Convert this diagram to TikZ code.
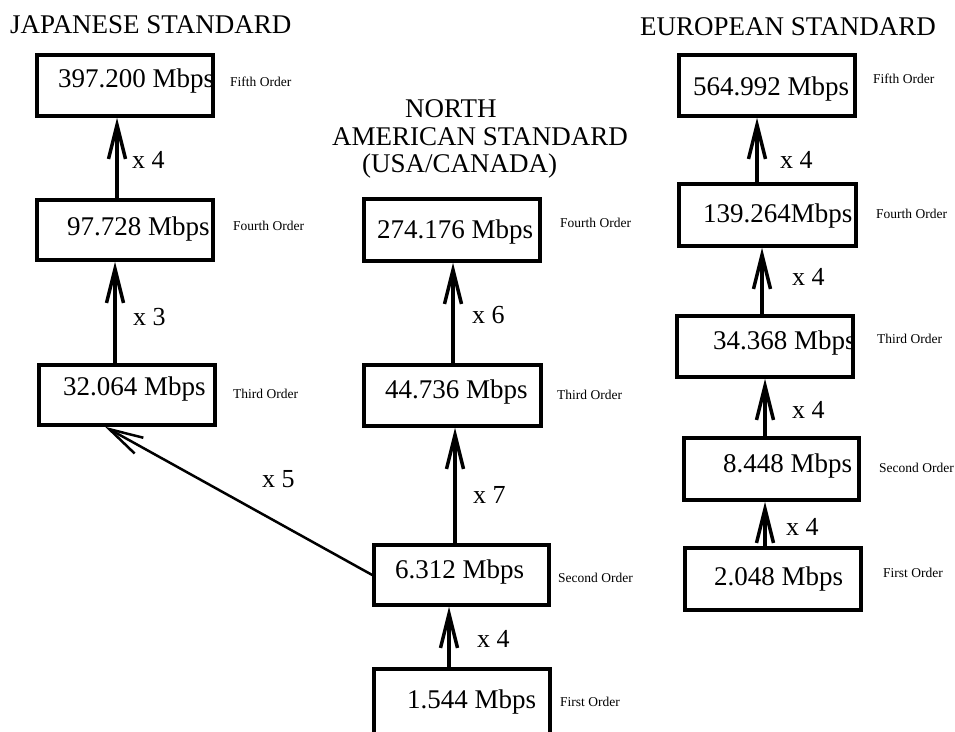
\documentclass[tikz,border=0pt]{standalone}
\usepackage{fontspec}
\setmainfont{Liberation Serif}
\usetikzlibrary{arrows.meta}
\begin{document}
\begin{tikzpicture}[x=1pt,y=-1pt,
  box/.style={draw,line width=3.5pt,inner sep=0pt,minimum width=176pt,minimum height=61pt},
  rate/.style={font=\fontsize{27}{30}\selectfont,anchor=base west,inner sep=0pt},
  ord/.style={font=\fontsize{13.5}{15}\selectfont,anchor=base west,inner sep=0pt},
  mult/.style={font=\fontsize{26}{28}\selectfont,anchor=base west,inner sep=0pt},
  ttl/.style={font=\fontsize{27}{30}\selectfont,anchor=base west,inner sep=0pt},
  arr/.style={line width=3.5pt,-{Straight Barb[length=34pt,width=17pt]}},
  darr/.style={line width=2.5pt,-{Straight Barb[length=34pt,width=18pt]}}]
\useasboundingbox (0,0) rectangle (955,731);
\clip (0,0) rectangle (955,731);

% titles
\node[ttl] (tj) at (10,33) {JAPANESE STANDARD};
\node[ttl] (te) at (640,35) {EUROPEAN STANDARD};
\node[ttl] (tn1) at (405,117) {NORTH};
\node[ttl] (tn2) at (332,145) {AMERICAN STANDARD};
\node[ttl] (tn3) at (362,172) {(USA/CANADA)};

% Japanese boxes
\node[box] (j5) at (125,85.5) {};
\node[box,minimum height=60pt] (j4) at (125,230) {};
\node[box,minimum height=60pt] (j3) at (127,395) {};
% North American boxes
\node[box,minimum height=62pt] (n4) at (452,230) {};
\node[box,minimum width=177pt] (n3) at (452.5,395.5) {};
\node[box,minimum width=175pt,minimum height=60pt] (n2) at (461.5,575) {};
\node[box,minimum height=70pt] (n1) at (462,704) {};
% European boxes
\node[box] (e5) at (767,85.5) {};
\node[box,minimum width=177pt,minimum height=62pt] (e4) at (767.5,215) {};
\node[box] (e3) at (765,346.5) {};
\node[box,minimum width=175pt,minimum height=62pt] (e2) at (771.5,469) {};
\node[box,minimum height=62pt] (e1) at (773,579) {};

% rates
\node[rate] (j5t) at (58,87) {397.200 Mbps};
\node[rate] (j4t) at (67,235) {97.728 Mbps};
\node[rate] (j3t) at (63,395) {32.064 Mbps};
\node[rate] (n4t) at (377,238) {274.176 Mbps};
\node[rate] (n3t) at (385,398) {44.736 Mbps};
\node[rate] (n2t) at (395,578) {6.312 Mbps};
\node[rate] (n1t) at (407,708) {1.544 Mbps};
\node[rate] (e5t) at (693,95) {564.992 Mbps};
\node[rate] (e4t) at (703,222) {139.264Mbps};
\node[rate] (e3t) at (713,349) {34.368 Mbps};
\node[rate] (e2t) at (723,472) {8.448 Mbps};
\node[rate] (e1t) at (714,585) {2.048 Mbps};

% order labels
\node[ord] (j5o) at (230,86) {Fifth Order};
\node[ord] (j4o) at (233,230) {Fourth Order};
\node[ord] (j3o) at (233,398) {Third Order};
\node[ord] (n4o) at (560,227) {Fourth Order};
\node[ord] (n3o) at (557,399) {Third Order};
\node[ord] (n2o) at (558,582) {Second Order};
\node[ord] (n1o) at (560,706) {First Order};
\node[ord] (e5o) at (873,83) {Fifth Order};
\node[ord] (e4o) at (876,218) {Fourth Order};
\node[ord] (e3o) at (877,343) {Third Order};
\node[ord] (e2o) at (879,472) {Second Order};
\node[ord] (e1o) at (883,577) {First Order};

% multipliers
\node[mult] (mj5) at (132,168) {x 4};
\node[mult] (mj4) at (133,325) {x 3};
\node[mult] (mj3) at (262,487) {x 5};
\node[mult] (mn4) at (472,323) {x 6};
\node[mult] (mn3) at (473,503) {x 7};
\node[mult] (mn2) at (477,647) {x 4};
\node[mult] (me5) at (780,168) {x 4};
\node[mult] (me4) at (792,285) {x 4};
\node[mult] (me3) at (792,418) {x 4};
\node[mult] (me2) at (786,535) {x 4};

% connectors
\draw[arr] (j4.north -| 117,0) -- (j5.south -| 117,0);
\draw[arr] (j3.north -| 115,0) -- (j4.south -| 115,0);
\draw[darr] (n2.west) -- (j3.south -| 105,0);
\draw[arr] (n3.north -| 453,0) -- (n4.south -| 453,0);
\draw[arr] (n2.north -| 455,0) -- (n3.south -| 455,0);
\draw[arr] (n1.north -| 449,0) -- (n2.south -| 449,0);
\draw[arr] (e4.north -| 757,0) -- (e5.south -| 757,0);
\draw[arr] (e3.north -| 762,0) -- (e4.south -| 762,0);
\draw[arr] (e2.north -| 765,0) -- (e3.south -| 765,0);
\draw[arr] (e1.north -| 765,0) -- (e2.south -| 765,0);
\end{tikzpicture}
\end{document}
